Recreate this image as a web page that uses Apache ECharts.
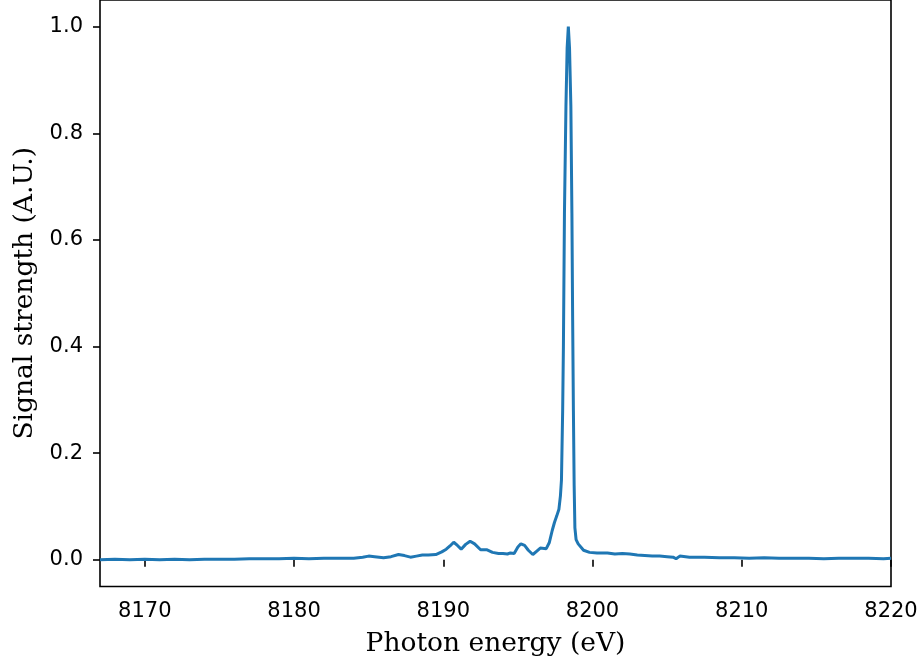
<!DOCTYPE html>
<html>
<head>
<meta charset="utf-8">
<script src="https://cdn.jsdelivr.net/npm/echarts@6/dist/echarts.min.js"></script>
<style>
  html, body { margin: 0; padding: 0; background: #fff; }
  #chart { width: 922px; height: 665px; }
</style>
</head>
<body>
<div id="chart"></div>
<script>
// 光子能量 (eV)
const energy = [
  8167.0, 8168, 8169, 8170, 8171, 8172, 8173, 8174, 8175, 8176,
  8177, 8178, 8179, 8180, 8181, 8182, 8183, 8184, 8184.6, 8185.0,
  8185.4, 8186.0, 8186.5, 8187.0, 8187.4, 8187.8, 8188.2, 8188.6, 8189.0, 8189.5,
  8189.9, 8190.2, 8190.45, 8190.7, 8190.95, 8191.2, 8191.5, 8191.8, 8192.1, 8192.5,
  8192.9, 8193.3, 8193.7, 8194.0, 8194.3, 8194.5, 8194.75, 8195.0, 8195.2, 8195.45,
  8195.7, 8196.0, 8196.25, 8196.5, 8196.9, 8197.1, 8197.3, 8197.45, 8197.6, 8197.75,
  8197.85, 8197.92, 8198.0, 8198.05, 8198.12, 8198.22, 8198.3, 8198.38, 8198.46, 8198.55,
  8198.62, 8198.67, 8198.72, 8198.77, 8198.82, 8198.9, 8199.04, 8199.4, 8199.8, 8200.3,
  8201.0, 8201.5, 8202.0, 8202.5, 8203.0, 8203.5, 8204.0, 8204.5, 8205.0, 8205.4,
  8205.6, 8205.85, 8206.5, 8207.5, 8208.5, 8209.5, 8210.5, 8211.5, 8212.5, 8213.5,
  8214.5, 8215.5, 8216.5, 8217.5, 8218.5, 8219.5, 8220
];

// 信号强度 (A.U.)
const signal = [
  0.000, 0.001, 0.000, 0.001, 0.000, 0.001, 0.000, 0.001, 0.001, 0.001,
  0.002, 0.002, 0.002, 0.003, 0.002, 0.003, 0.003, 0.003, 0.005, 0.007,
  0.006, 0.004, 0.006, 0.010, 0.008, 0.005, 0.007, 0.009, 0.009, 0.010,
  0.015, 0.020, 0.026, 0.033, 0.027, 0.020, 0.029, 0.035, 0.030, 0.019,
  0.019, 0.014, 0.012, 0.012, 0.011, 0.013, 0.012, 0.024, 0.030, 0.027,
  0.018, 0.010, 0.016, 0.022, 0.021, 0.032, 0.055, 0.070, 0.082, 0.095,
  0.120, 0.150, 0.280, 0.400, 0.650, 0.850, 0.960, 1.000, 0.960, 0.850,
  0.650, 0.450, 0.280, 0.140, 0.060, 0.038, 0.030, 0.018, 0.014, 0.013,
  0.013, 0.011, 0.012, 0.011, 0.009, 0.008, 0.007, 0.007, 0.006, 0.005,
  0.002, 0.007, 0.005, 0.005, 0.004, 0.004, 0.003, 0.004, 0.003, 0.003,
  0.003, 0.002, 0.003, 0.003, 0.003, 0.002, 0.003
];

// 刻度
const xTicks = [8170, 8180, 8190, 8200, 8210, 8220];
const yTicks = [0, 0.2, 0.4, 0.6, 0.8, 1.0];

const chart = echarts.init(document.getElementById('chart'));

const tickFont = {
  fontFamily: 'DejaVu Sans',
  fontSize: 21,
  color: '#000'
};
const nameFont = {
  fontFamily: 'DejaVu Serif',
  fontSize: 26.5,
  color: '#000'
};

chart.setOption({
  animation: false,
  backgroundColor: '#fff',
  grid: {
    left: 100,
    right: 31,
    top: -3,
    bottom: 78.5,
    show: true,
    borderColor: '#000',
    borderWidth: 1.6,
    backgroundColor: 'transparent'
  },
  xAxis: {
    type: 'value',
    min: 8167,
    max: 8220,
    name: 'Photon energy (eV)',
    nameLocation: 'middle',
    nameGap: 44,
    nameTextStyle: nameFont,
    axisLine: { show: false },
    axisTick: {
      show: true,
      length: 7,
      customValues: xTicks,
      lineStyle: { color: '#000', width: 1.6 }
    },
    axisLabel: Object.assign({
      margin: 15,
      customValues: xTicks,
      formatter: v => String(v)
    }, tickFont),
    splitLine: { show: false }
  },
  yAxis: {
    type: 'value',
    min: -0.05,
    max: 1.05,
    name: 'Signal strength (A.U.)',
    nameLocation: 'middle',
    nameGap: 56,
    nameTextStyle: nameFont,
    axisLine: { show: false },
    axisTick: {
      show: true,
      length: 7,
      customValues: yTicks,
      lineStyle: { color: '#000', width: 1.6 }
    },
    axisLabel: Object.assign({
      margin: 17,
      customValues: yTicks,
      formatter: v => Number(v).toFixed(1)
    }, tickFont),
    splitLine: { show: false }
  },
  series: [{
    type: 'line',
    data: energy.map((e, i) => [e, signal[i]]),
    showSymbol: false,
    symbol: 'none',
    clip: true,
    lineStyle: { color: '#1f77b4', width: 3 }
  }]
});

window.addEventListener('resize', function () {
  chart.resize();
});
</script>
</body>
</html>
